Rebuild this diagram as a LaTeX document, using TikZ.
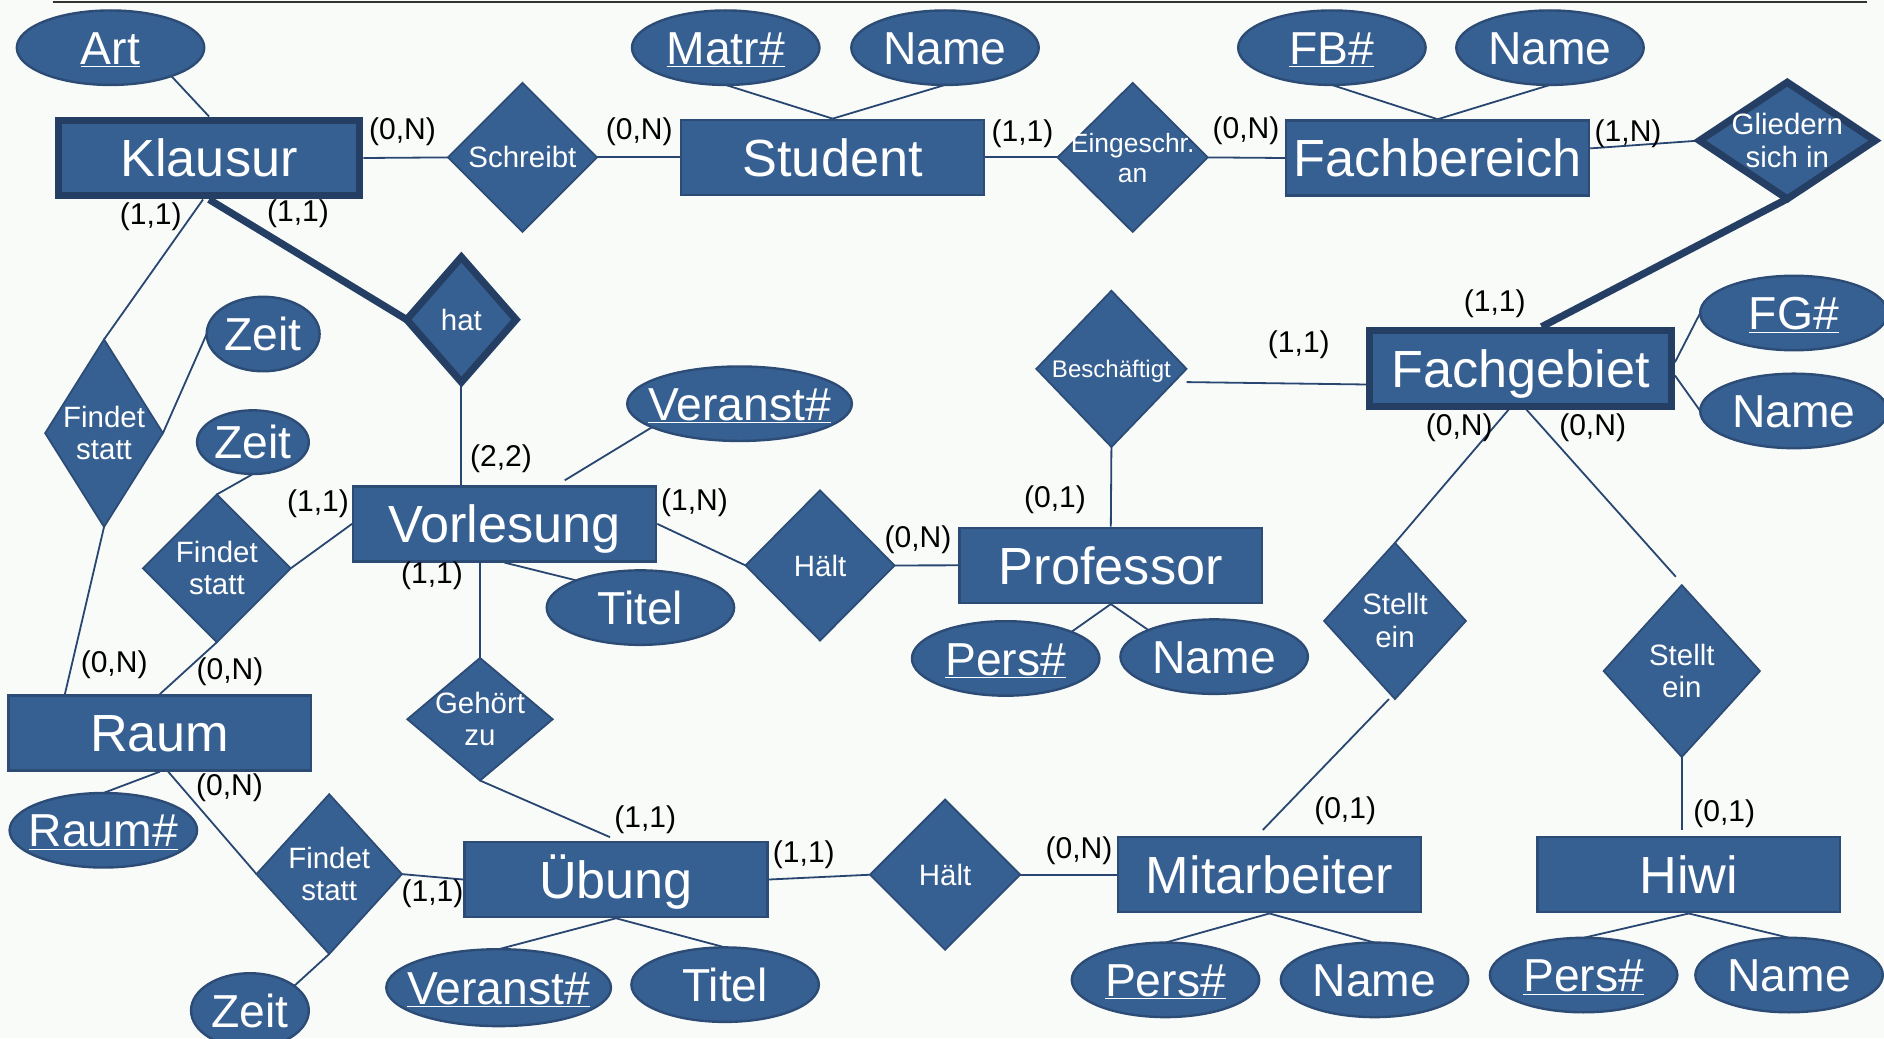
\documentclass[tikz,border=0pt]{standalone}
\usepackage{fontspec}
\setmainfont{Liberation Sans}
\usetikzlibrary{shapes.geometric,calc}
\definecolor{fillc}{RGB}{55,96,146}
\definecolor{bord}{RGB}{44,76,118}
\definecolor{dark}{RGB}{36,63,99}
\definecolor{linec}{RGB}{40,70,112}
\definecolor{bgc}{RGB}{249,251,249}
\newcommand\entfont{\fontsize{43.5}{48}\selectfont}
\newcommand\attrfont{\fontsize{38.5}{42}\selectfont}
\newcommand\relfont{\fontsize{24.5}{27}\selectfont}
\newcommand\cardfont{\fontsize{25}{28}\selectfont}
\newcommand\ct[1]{\makebox[0pt]{\raisebox{-0.36em}[0pt][0pt]{#1}}}
\newcommand\ctt[2]{\makebox[0pt]{\raisebox{-0.38em}[0pt][0pt]{\begin{tabular}{@{}c@{}}#1\\#2\end{tabular}}}}
\pgfdeclarelayer{back}
\pgfdeclarelayer{bg}
\pgfsetlayers{back,bg,main}
\tikzset{
 ent/.style={rectangle, draw=bord, fill=fillc, line width=2pt, minimum width=252pt, minimum height=62.5pt, inner sep=0pt, text=white, font=\entfont},
 went/.style={ent, draw=dark, line width=6pt, minimum width=251pt, minimum height=63pt},
 rel/.style={diamond, draw=bord, fill=fillc, line width=1.5pt, inner sep=0pt, outer sep=0pt, text=white, font=\relfont},
 wrel/.style={rel, draw=dark, line width=6pt},
 attr/.style={ellipse, draw=bord, fill=fillc, line width=2pt, inner sep=0pt, outer sep=0pt, text=white, font=\attrfont, minimum width=156pt, minimum height=62pt},
 card/.style={inner sep=0pt, font=\cardfont, text=black},
 conn/.style={draw=linec, line width=1.5pt},
 tconn/.style={draw=dark, line width=6pt},
}
\begin{document}
\begin{tikzpicture}[x=1pt,y=-1pt]
\useasboundingbox (0,0) rectangle (1568,864);
\begin{pgfonlayer}{back}
\fill[bgc] (0,0) rectangle (1568,864);
\draw[line width=2pt, black!80] (44,1.5) -- (1554,1.5);
\end{pgfonlayer}

% entities
\node[went] (klausur) at (174,131.5) {\ct{Klausur}};
\node[ent] (student) at (693,131) {\ct{Student}};
\node[ent] (fachbereich) at (1196.5,131.5) {\ct{Fachbereich}};
\node[went] (fachgebiet) at (1265.5,306.5) {\ct{Fachgebiet}};
\node[ent] (vorlesung) at (420,436) {\ct{Vorlesung}};
\node[ent] (professor) at (924.5,470.5) {\ct{Professor}};
\node[ent] (raum) at (133,610) {\ct{Raum}};
\node[ent] (uebung) at (512.7,732) {\ct{Übung}};
\node[ent] (mitarbeiter) at (1056.5,728) {\ct{Mitarbeiter}};
\node[ent] (hiwi) at (1405.5,728) {\ct{Hiwi}};

% relationships
\node[rel, minimum width=124pt, minimum height=124pt] (schreibt) at (434.8,131) {\ct{Schreibt}};
\node[rel, minimum width=125pt, minimum height=124pt, font=\fontsize{22}{25}\selectfont] (eingeschr) at (942.7,131) {\ctt{Eingeschr.}{an}};
\node[wrel, minimum width=146pt, minimum height=97pt] (gliedern) at (1487.5,117) {\ctt{Gliedern}{sich in}};
\node[wrel, minimum width=91pt, minimum height=104pt] (hat) at (384,266) {\ct{hat}};
\node[rel, minimum width=98pt, minimum height=156pt] (findet1) at (86.6,360.5) {\ctt{Findet}{statt}};
\node[rel, minimum width=123pt, minimum height=123pt] (findet2) at (180.5,473) {\ctt{Findet}{statt}};
\node[rel, minimum width=125pt, minimum height=130pt, font=\fontsize{20}{23}\selectfont] (beschaeftigt) at (925,307) {\ct{Beschäftigt}};
\node[rel, minimum width=124pt, minimum height=125pt] (haelt1) at (682.5,470.6) {\ct{Hält}};
\node[rel, minimum width=118pt, minimum height=130pt] (stellt1) at (1161,516.8) {\ctt{Stellt}{ein}};
\node[rel, minimum width=130pt, minimum height=143pt] (stellt2) at (1399.7,558.5) {\ctt{Stellt}{ein}};
\node[rel, minimum width=121pt, minimum height=102pt] (gehoert) at (399.5,598.6) {\ctt{Gehört}{zu}};
\node[rel, minimum width=121pt, minimum height=133pt] (findet3) at (274,727.5) {\ctt{Findet}{statt}};
\node[rel, minimum width=125pt, minimum height=125pt] (haelt2) at (786.6,728) {\ct{Hält}};

% attributes
\node[attr] (art) at (92,39.7) {\ct{\underline{Art}}};
\node[attr] (matr) at (604,39.7) {\ct{\underline{Matr\#}}};
\node[attr] (namestud) at (786.5,39.7) {\ct{Name}};
\node[attr] (fb) at (1108.5,39.7) {\ct{\underline{FB\#}}};
\node[attr] (namefb) at (1290,39.7) {\ct{Name}};
\node[attr] (fg) at (1493,260.5) {\ct{\underline{FG\#}}};
\node[attr] (namefg) at (1493,342) {\ct{Name}};
\node[attr, minimum width=94pt] (zeit1) at (219,278) {\ct{Zeit}};
\node[attr, minimum width=93pt, minimum height=53pt] (zeit2) at (210.5,368) {\ct{Zeit}};
\node[attr, minimum width=187pt] (veranst1) at (615.5,336) {\ct{\underline{Veranst\#}}};
\node[attr] (titel1) at (533,505.7) {\ct{Titel}};
\node[attr] (pers1) at (837,548) {\ct{\underline{Pers\#}}};
\node[attr] (nameprof) at (1010.5,546.5) {\ct{Name}};
\node[attr] (raumnr) at (86,691) {\ct{\underline{Raum\#}}};
\node[attr, minimum width=98pt] (zeit3) at (208,841) {\ct{Zeit}};
\node[attr, minimum width=187pt, minimum height=64pt] (veranst2) at (415,822) {\ct{\underline{Veranst\#}}};
\node[attr] (titel2) at (603.5,819.5) {\ct{Titel}};
\node[attr] (pers2) at (970,815.5) {\ct{\underline{Pers\#}}};
\node[attr] (namemit) at (1144,815.5) {\ct{Name}};
\node[attr] (pers3) at (1318,811.5) {\ct{\underline{Pers\#}}};
\node[attr] (namehiwi) at (1489,811.5) {\ct{Name}};

% cardinalities
\node[card] (c1) at (335,110) {(0,N)};
\node[card] (c2) at (532,110) {(0,N)};
\node[card] (c3) at (851,111.5) {(1,1)};
\node[card] (c4) at (1037,109) {(0,N)};
\node[card] (c5) at (1355,111) {(1,N)};
\node[card] (c6) at (125.5,180) {(1,1)};
\node[card] (c7) at (248,178) {(1,1)};
\node[card] (c8) at (1244,253) {(1,1)};
\node[card] (c9) at (1081,286.5) {(1,1)};
\node[card] (c10) at (1214.5,356) {(0,N)};
\node[card] (c11) at (1325.5,356) {(0,N)};
\node[card] (c12) at (417,381.5) {(2,2)};
\node[card] (c13) at (264.7,419.6) {(1,1)};
\node[card] (c14) at (578,418) {(1,N)};
\node[card] (c15) at (764,449.5) {(0,N)};
\node[card] (c16) at (878,416) {(0,1)};
\node[card] (c17) at (359.5,479) {(1,1)};
\node[card] (c18) at (95,553.5) {(0,N)};
\node[card] (c19) at (191.4,559) {(0,N)};
\node[card] (c20) at (191,656) {(0,N)};
\node[card] (c21) at (537,682.6) {(1,1)};
\node[card] (c22) at (360,743.5) {(1,1)};
\node[card] (c23) at (669,711) {(1,1)};
\node[card] (c24) at (898,708) {(0,N)};
\node[card] (c25) at (1119.5,675) {(0,1)};
\node[card] (c26) at (1435,677.5) {(0,1)};

% connectors
\begin{pgfonlayer}{bg}
\draw[conn] (art.-25) -- (klausur.north);
\draw[conn] (klausur.east) -- (schreibt.west);
\draw[conn] (schreibt.east) -- (student.west);
\draw[conn] (matr.south) -- (student.north);
\draw[conn] (namestud.south) -- (student.north);
\draw[conn] (student.east) -- (eingeschr.west);
\draw[conn] (eingeschr.east) -- (fachbereich.west);
\draw[conn] (fb.south) -- (fachbereich.north);
\draw[conn] (namefb.south) -- (fachbereich.north);
\draw[conn] ([yshift=8pt]fachbereich.east) -- (gliedern.west);
\draw[tconn] (gliedern.south) -- ([xshift=17.5pt]fachgebiet.north);
\draw[conn] ([yshift=5pt]fachgebiet.east) -- (fg.west);
\draw[conn] ([yshift=-6pt]fachgebiet.east) -- (namefg.west);
\draw[conn] ([yshift=-11pt]beschaeftigt.east) -- ([yshift=-13.5pt]fachgebiet.west);
\draw[conn] (beschaeftigt.south) -- (professor.north);
\draw[conn] ([xshift=-10pt]fachgebiet.south) -- (stellt1.north);
\draw[conn] ([xshift=5pt]fachgebiet.south) -- ($(stellt2.north)+(-5,-7)$);
\draw[conn] ([xshift=-5pt]stellt1.south) -- ($(mitarbeiter.north)+(-5.5,-5)$);
\draw[conn] (stellt2.south) -- ($(stellt2.south |- hiwi.north)+(0,-5)$);
\draw[conn] ([xshift=-5pt]klausur.south) -- (findet1.north);
\draw[tconn] (klausur.south) -- (hat.west);
\draw[conn] (hat.south) -- (hat.south |- vorlesung.north);
\draw[conn] (zeit1.west) -- (findet1.east);
\draw[conn] (findet1.south) -- ([xshift=-79pt]raum.north);
\draw[conn] (zeit2.south) -- (findet2.north);
\draw[conn] (findet2.east) -- (vorlesung.west);
\draw[conn] (findet2.south) -- (raum.north);
\draw[conn] (veranst1.195) -- ([shift={(50pt,4pt)}]vorlesung.north);
\draw[conn] (vorlesung.east) -- (haelt1.west);
\draw[conn] (haelt1.east) -- (professor.west);
\draw[conn] (vorlesung.south) -- (titel1.157);
\draw[conn] (gehoert.north) -- (gehoert.north |- vorlesung.south);
\draw[conn] (gehoert.south) -- ([shift={(-5pt,3pt)}]uebung.north);
\draw[conn] (professor.south) -- (pers1.22);
\draw[conn] (professor.south) -- (nameprof.158);
\draw[conn] (raum.south) -- (raumnr.north);
\draw[conn] ([xshift=7pt]raum.south) -- (findet3.west);
\draw[conn] (findet3.east) -- (uebung.west);
\draw[conn] (findet3.south) -- (zeit3.29);
\draw[conn] (uebung.east) -- (haelt2.west);
\draw[conn] (haelt2.east) -- (mitarbeiter.west);
\draw[conn] (uebung.south) -- (veranst2.north);
\draw[conn] (uebung.south) -- (titel2.north);
\draw[conn] (mitarbeiter.south) -- (pers2.north);
\draw[conn] (mitarbeiter.south) -- (namemit.north);
\draw[conn] (hiwi.south) -- (pers3.north);
\draw[conn] (hiwi.south) -- (namehiwi.north);
\end{pgfonlayer}
\end{tikzpicture}
\end{document}
